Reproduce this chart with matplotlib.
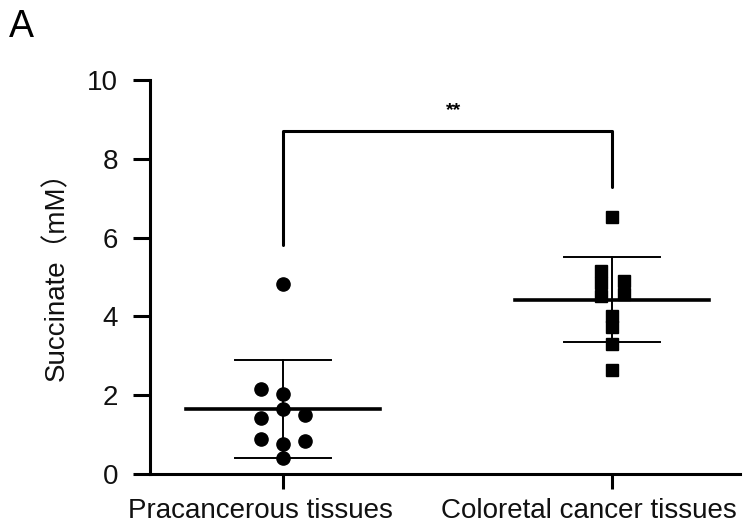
import numpy as np
import matplotlib
matplotlib.use("Agg")
import matplotlib.pyplot as plt
from matplotlib.transforms import ScaledTranslation

# -----------------------------
# data
# -----------------------------
groups = ["Pracancerous tissues", "Coloretal cancer tissues"]
pre_vals = [4.82, 2.16, 2.03, 1.65, 1.42, 1.50, 0.89, 0.76, 0.84, 0.41]
crc_vals = [6.52, 5.15, 4.85, 4.52, 4.90, 4.58, 4.02, 3.72, 3.30, 2.64]
# horizontal scatter offsets (layout only)
pre_jit = [0, -0.068, 0, 0, -0.068, 0.068, -0.068, 0, 0.068, 0]
crc_jit = [0, -0.033, -0.033, -0.033, 0.035, 0.035, 0, 0, 0, 0]
y_ticks = [0, 2, 4, 6, 8, 10]
sig_label = "**"

plt.rcParams["font.family"] = ["Liberation Sans", "Noto Sans CJK SC", "DejaVu Sans"]

fig = plt.figure(figsize=(7.44, 5.23), dpi=100)
ax = fig.add_axes([150 / 744, 49 / 523, 590 / 744, 394 / 523])

lw = 2.2
for i, (vals, jit, mk, ms) in enumerate([(pre_vals, pre_jit, "o", 9.5),
                                         (crc_vals, crc_jit, "s", 8.5)]):
    v = np.array(vals)
    m, sd = v.mean(), v.std(ddof=1)
    ax.plot(i + np.array(jit), v, ls="none", marker=mk, ms=ms, color="black", zorder=3)
    ax.plot([i - 0.295, i + 0.295], [m, m], color="black", lw=2.6, zorder=4)
    ax.plot([i, i], [m - sd, m + sd], color="black", lw=1.4, zorder=2)
    for e in (m - sd, m + sd):
        ax.plot([i - 0.147, i + 0.147], [e, e], color="black", lw=1.4, zorder=2)

# significance bracket
ax.plot([0, 0, 1, 1], [5.8, 8.7, 8.7, 7.28], color="black", lw=lw,
        solid_joinstyle="round", solid_capstyle="round")
ax.text(0.52, 9.0, sig_label, ha="center", va="bottom", fontsize=14, fontweight="bold")

ax.set_xlim(-0.404, 1.389)
ax.set_ylim(0, 10)
ax.set_xticks([0, 1])
ax.set_xticklabels(groups, fontsize=20, color="#111111")
ax.set_yticks(y_ticks)
ax.set_yticklabels([str(t) for t in y_ticks], fontsize=20, color="#111111")
ax.set_ylabel("Succinate（mM）", fontsize=20, color="#111111")
ax.yaxis.set_label_coords(-0.136, 0.52)

for s in ["top", "right"]:
    ax.spines[s].set_visible(False)
for s in ["left", "bottom"]:
    ax.spines[s].set_linewidth(lw)
ax.tick_params(axis="y", width=lw, length=12, pad=11)
ax.tick_params(axis="x", width=lw, length=11, pad=6)

# x labels sit a bit left of their ticks in the original
shift = ScaledTranslation(-0.23, 0, fig.dpi_scale_trans)
for lbl in ax.get_xticklabels():
    lbl.set_transform(lbl.get_transform() + shift)

fig.text(0.012, 0.93, "A", fontsize=27)

plt.savefig("out.png", dpi=100)
